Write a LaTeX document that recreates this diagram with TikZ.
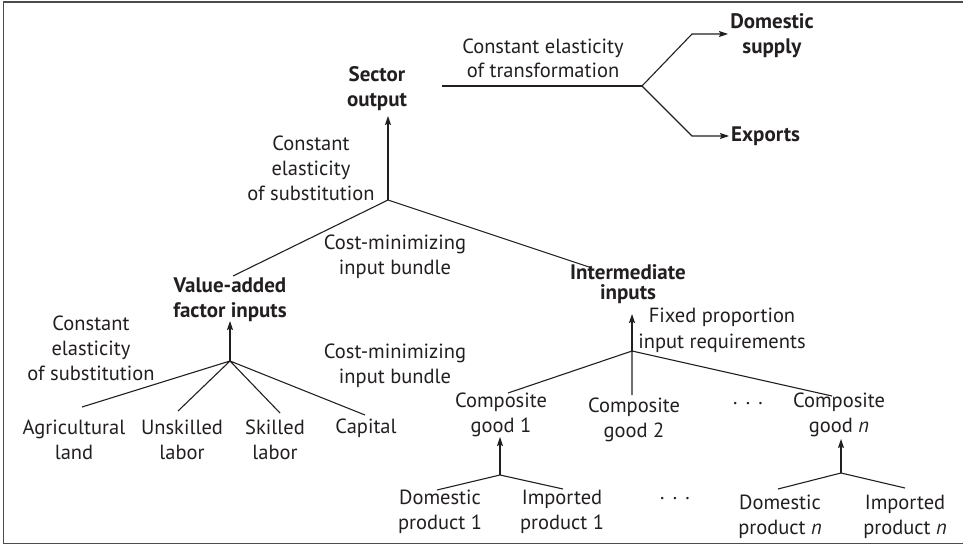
\documentclass[tikz,border=0pt]{standalone}
\usepackage{fontspec}
\setmainfont{PT Sans}
\usetikzlibrary{arrows.meta}
\definecolor{ink}{HTML}{231F20}
\newcommand{\spdots}{.\hspace{0.4em}.\hspace{0.4em}.}
\begin{document}
\begin{tikzpicture}[x=1pt,y=-1pt,
  txt/.style={align=center,inner sep=0pt,text=ink,font=\fontsize{20.5}{25}\selectfont},
  btxt/.style={txt,font=\fontsize{21}{25}\selectfont\bfseries},
  conn/.style={draw=ink,line width=1.1pt},
  arr/.style={conn,-{Stealth[length=9pt,width=6pt,inset=1.5pt]}}]
\useasboundingbox (0,0) rectangle (963,545);
\draw[line width=1.4pt,draw=black!70] (3.5,2) rectangle (966,543.5);
% nodes
\node[btxt] (sector) at (377,89) {Sector\\output};
\node[txt,font=\fontsize{20.5}{24}\selectfont] (cet) at (543,58) {Constant elasticity\\of transformation};
\node[btxt,font=\fontsize{21}{25}\selectfont\bfseries] (dom) at (772,36) {Domestic\\supply};
\node[btxt,anchor=west] (exp) at (731,136) {Exports};
\node[txt] (ces1) at (311,168) {Constant\\elasticity\\of substitution};
\node[txt] (cmib1) at (395,257) {Cost-minimizing\\input bundle};
\node[btxt] (va) at (230,300) {Value-added\\factor inputs};
\node[txt] (ces2) at (91,348) {Constant\\elasticity\\of substitution};
\node[txt] (cmib2) at (395,366) {Cost-minimizing\\input bundle};
\node[btxt,font=\fontsize{21}{20.5}\selectfont\bfseries] (int) at (628,284) {Intermediate\\inputs};
\node[txt,font=\fontsize{20.5}{26}\selectfont] (fpir) at (722,330) {Fixed proportion\\input requirements};
\node[txt] (agl) at (74,440) {Agricultural\\land};
\node[txt] (unl) at (182,440) {Unskilled\\labor};
\node[txt] (skl) at (275,440) {Skilled\\labor};
\node[txt] (cap) at (366,428) {Capital};
\node[txt] (cg1) at (501,415) {Composite\\good 1};
\node[txt] (cg2) at (634,420) {Composite\\good 2};
\node[txt] (dots1) at (748,404) {\spdots};
\node[txt] (cgn) at (839,415) {Composite\\good \textit{n}};
\node[txt] (dp1) at (440,512) {Domestic\\product 1};
\node[txt] (ip1) at (562,512) {Imported\\product 1};
\node[txt] (dots2) at (675,499) {\spdots};
\node[txt] (dpn) at (780,517) {Domestic\\product \textit{n}};
\node[txt] (ipn) at (905,517) {Imported\\product \textit{n}};
% coordinates
\coordinate (jS) at (388,200);
\coordinate (tS) at (388,116);
\coordinate (eVA) at (233,276);
\coordinate (eInt) at (592,268);
\coordinate (cetA) at (442,86);
\coordinate (jT) at (642,86);
\coordinate (bD) at (692,34);
\coordinate (tD) at (728,34);
\coordinate (bE) at (692,136);
\coordinate (tE) at (729,136);
\coordinate (jV) at (230,361);
\coordinate (tV) at (230,321);
\coordinate (eAg) at (82,407);
\coordinate (eUn) at (178,411);
\coordinate (eSk) at (280,413);
\coordinate (eCa) at (365,415);
\coordinate (jI) at (632,351);
\coordinate (tI) at (632,314);
\coordinate (eC1) at (508,393);
\coordinate (eC2) at (632,395);
\coordinate (eCn) at (832,396);
\coordinate (jC1) at (500,475);
\coordinate (tC1) at (500,437);
\coordinate (eD1) at (437,490);
\coordinate (eI1) at (563,489);
\coordinate (jCn) at (841,473);
\coordinate (tCn) at (841,439);
\coordinate (eDn) at (778,489);
\coordinate (eIn) at (905,488);
% connectors
\draw[arr] (jS) -- (tS);
\draw[conn] (eVA) -- (jS) -- (eInt);
\draw[conn] (cetA) -- (jT);
\draw[arr] (jT) -- (bD) -- (tD);
\draw[arr] (jT) -- (bE) -- (tE);
\draw[arr] (jV) -- (tV);
\draw[conn] (jV) -- (eAg) (jV) -- (eUn) (jV) -- (eSk) (jV) -- (eCa);
\draw[arr] (jI) -- (tI);
\draw[conn] (jI) -- (eC1) (jI) -- (eC2) (jI) -- (eCn);
\draw[arr] (jC1) -- (tC1);
\draw[conn] (eD1) -- (jC1) -- (eI1);
\draw[arr] (jCn) -- (tCn);
\draw[conn] (eDn) -- (jCn) -- (eIn);
\end{tikzpicture}
\end{document}
